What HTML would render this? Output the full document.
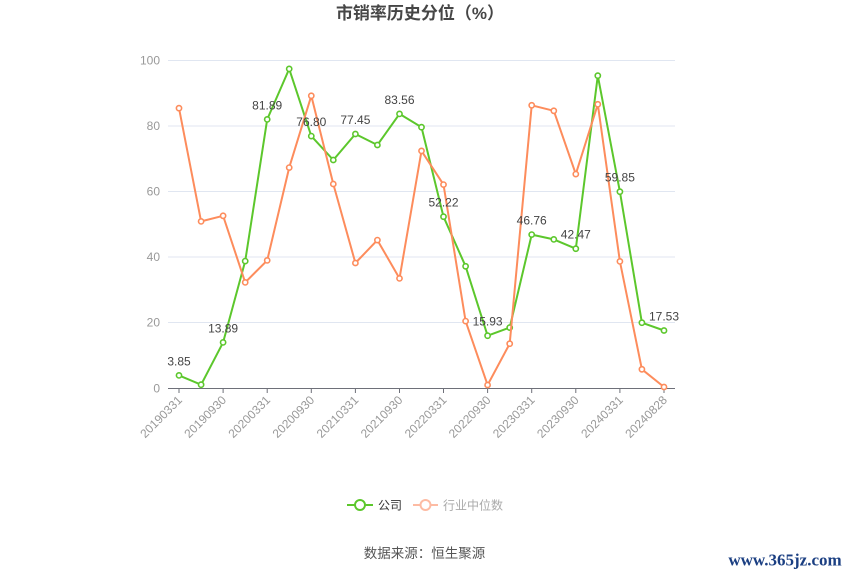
<!DOCTYPE html>
<html>
<head>
<meta charset="utf-8">
<style>
html,body{margin:0;padding:0;background:#fff;}
svg{display:block;}
text{font-family:"Liberation Sans","Noto Sans CJK SC",sans-serif;}
</style>
</head>
<body>
<svg width="850" height="575" viewBox="0 0 850 575" xmlns="http://www.w3.org/2000/svg">
<rect width="850" height="575" fill="#fff"/>
<text x="420" y="19" text-anchor="middle" font-size="17" font-weight="bold" fill="#464646">市销率历史分位（%）</text>

<!-- grid -->
<g stroke="#E0E6F1" stroke-width="1">
<line x1="168" y1="60.5" x2="675" y2="60.5"/>
<line x1="168" y1="126" x2="675" y2="126"/>
<line x1="168" y1="191.5" x2="675" y2="191.5"/>
<line x1="168" y1="257" x2="675" y2="257"/>
<line x1="168" y1="322.5" x2="675" y2="322.5"/>
</g>
<line x1="168" y1="388.5" x2="675" y2="388.5" stroke="#6E7079" stroke-width="1"/>
<g stroke="#6E7079" stroke-width="1">
<line x1="179" y1="388" x2="179" y2="393"/>
<line x1="223.1" y1="388" x2="223.1" y2="393"/>
<line x1="267.2" y1="388" x2="267.2" y2="393"/>
<line x1="311.3" y1="388" x2="311.3" y2="393"/>
<line x1="355.4" y1="388" x2="355.4" y2="393"/>
<line x1="399.5" y1="388" x2="399.5" y2="393"/>
<line x1="443.5" y1="388" x2="443.5" y2="393"/>
<line x1="487.6" y1="388" x2="487.6" y2="393"/>
<line x1="531.7" y1="388" x2="531.7" y2="393"/>
<line x1="575.8" y1="388" x2="575.8" y2="393"/>
<line x1="619.9" y1="388" x2="619.9" y2="393"/>
<line x1="664" y1="388" x2="664" y2="393"/>
</g>

<!-- y labels -->
<g font-size="12" fill="#999" text-anchor="end">
<text x="160" y="64.5">100</text>
<text x="160" y="130">80</text>
<text x="160" y="195.5">60</text>
<text x="160" y="261">40</text>
<text x="160" y="326.5">20</text>
<text x="160" y="392.5">0</text>
</g>

<!-- x labels -->
<g font-size="12" fill="#999" text-anchor="end">
<text transform="translate(180,398) rotate(-45)" dy="4">20190331</text>
<text transform="translate(224.1,398) rotate(-45)" dy="4">20190930</text>
<text transform="translate(268.2,398) rotate(-45)" dy="4">20200331</text>
<text transform="translate(312.3,398) rotate(-45)" dy="4">20200930</text>
<text transform="translate(356.4,398) rotate(-45)" dy="4">20210331</text>
<text transform="translate(400.5,398) rotate(-45)" dy="4">20210930</text>
<text transform="translate(444.5,398) rotate(-45)" dy="4">20220331</text>
<text transform="translate(488.6,398) rotate(-45)" dy="4">20220930</text>
<text transform="translate(532.7,398) rotate(-45)" dy="4">20230331</text>
<text transform="translate(576.8,398) rotate(-45)" dy="4">20230930</text>
<text transform="translate(620.9,398) rotate(-45)" dy="4">20240331</text>
<text transform="translate(665,398) rotate(-45)" dy="4">20240828</text>
</g>

<!-- green series -->
<polyline fill="none" stroke="#5CC72C" stroke-width="2" stroke-linejoin="round"
points="179,375.4 201.1,384.7 223.1,342.4 245.2,261.1 267.2,119.4 289.2,68.9 311.3,136.1 333.3,160 355.4,134 377.4,145 399.5,113.9 421.5,127.2 443.5,216.7 465.6,266.3 487.6,335.7 509.7,327.6 531.7,234.6 553.8,239.4 575.8,248.7 597.8,75.7 619.9,191.7 641.9,322.7 664,330.5"/>
<g fill="#fff" stroke="#5CC72C" stroke-width="1.6">
<circle cx="179" cy="375.4" r="2.6"/><circle cx="201.1" cy="384.7" r="2.6"/><circle cx="223.1" cy="342.4" r="2.6"/><circle cx="245.2" cy="261.1" r="2.6"/><circle cx="267.2" cy="119.4" r="2.6"/><circle cx="289.2" cy="68.9" r="2.6"/><circle cx="311.3" cy="136.1" r="2.6"/><circle cx="333.3" cy="160" r="2.6"/><circle cx="355.4" cy="134" r="2.6"/><circle cx="377.4" cy="145" r="2.6"/><circle cx="399.5" cy="113.9" r="2.6"/><circle cx="421.5" cy="127.2" r="2.6"/><circle cx="443.5" cy="216.7" r="2.6"/><circle cx="465.6" cy="266.3" r="2.6"/><circle cx="487.6" cy="335.7" r="2.6"/><circle cx="509.7" cy="327.6" r="2.6"/><circle cx="531.7" cy="234.6" r="2.6"/><circle cx="553.8" cy="239.4" r="2.6"/><circle cx="575.8" cy="248.7" r="2.6"/><circle cx="597.8" cy="75.7" r="2.6"/><circle cx="619.9" cy="191.7" r="2.6"/><circle cx="641.9" cy="322.7" r="2.6"/><circle cx="664" cy="330.5" r="2.6"/>
</g>

<!-- orange series -->
<polyline fill="none" stroke="#FD8C5C" stroke-width="2" stroke-linejoin="round"
points="179,108.2 201.1,221.4 223.1,215.8 245.2,282.4 267.2,260.4 289.2,167.6 311.3,95.8 333.3,184 355.4,263 377.4,240.1 399.5,278.4 421.5,150.9 443.5,184.6 465.6,321.1 487.6,385 509.7,343.7 531.7,105.3 553.8,110.8 575.8,174.1 597.8,104.3 619.9,261.4 641.9,369.3 664,387"/>
<g fill="#fff" stroke="#FD8C5C" stroke-width="1.6">
<circle cx="179" cy="108.2" r="2.6"/><circle cx="201.1" cy="221.4" r="2.6"/><circle cx="223.1" cy="215.8" r="2.6"/><circle cx="245.2" cy="282.4" r="2.6"/><circle cx="267.2" cy="260.4" r="2.6"/><circle cx="289.2" cy="167.6" r="2.6"/><circle cx="311.3" cy="95.8" r="2.6"/><circle cx="333.3" cy="184" r="2.6"/><circle cx="355.4" cy="263" r="2.6"/><circle cx="377.4" cy="240.1" r="2.6"/><circle cx="399.5" cy="278.4" r="2.6"/><circle cx="421.5" cy="150.9" r="2.6"/><circle cx="443.5" cy="184.6" r="2.6"/><circle cx="465.6" cy="321.1" r="2.6"/><circle cx="487.6" cy="385" r="2.6"/><circle cx="509.7" cy="343.7" r="2.6"/><circle cx="531.7" cy="105.3" r="2.6"/><circle cx="553.8" cy="110.8" r="2.6"/><circle cx="575.8" cy="174.1" r="2.6"/><circle cx="597.8" cy="104.3" r="2.6"/><circle cx="619.9" cy="261.4" r="2.6"/><circle cx="641.9" cy="369.3" r="2.6"/><circle cx="664" cy="387" r="2.6"/>
</g>

<!-- data labels -->
<g font-size="12" fill="#444" text-anchor="middle">
<text x="179" y="365.4">3.85</text>
<text x="223.1" y="332.4">13.89</text>
<text x="267.2" y="109.4">81.89</text>
<text x="311.3" y="126.1">76.80</text>
<text x="355.4" y="124">77.45</text>
<text x="399.5" y="103.9">83.56</text>
<text x="443.5" y="206.7">52.22</text>
<text x="487.6" y="325.7">15.93</text>
<text x="531.7" y="224.6">46.76</text>
<text x="575.8" y="238.7">42.47</text>
<text x="619.9" y="181.7">59.85</text>
<text x="664" y="320.5">17.53</text>
</g>

<!-- legend -->
<line x1="347" y1="505" x2="373" y2="505" stroke="#5CC72C" stroke-width="2"/>
<circle cx="360" cy="505" r="5" fill="#fff" stroke="#5CC72C" stroke-width="2"/>
<text x="378" y="509.5" font-size="12" fill="#333">公司</text>
<line x1="413" y1="505" x2="438" y2="505" stroke="#FDBBA3" stroke-width="2"/>
<circle cx="425.5" cy="505" r="5" fill="#fff" stroke="#FDBBA3" stroke-width="2"/>
<text x="443" y="509.5" font-size="12" fill="#aaa">行业中位数</text>

<!-- footer -->
<text x="424.5" y="558" text-anchor="middle" font-size="13.5" fill="#555">数据来源：恒生聚源</text>

<!-- watermark -->
<text x="785" y="565.5" text-anchor="middle" style="font-family:'Liberation Serif',serif;font-weight:bold;font-size:17px;" fill="#1B3F82">www.365jz.com</text>
</svg>
</body>
</html>
